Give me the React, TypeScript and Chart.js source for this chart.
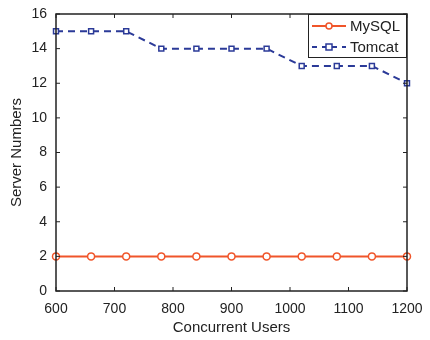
import React, { useEffect, useRef } from "react";
import { Chart, registerables } from "chart.js";

Chart.register(...registerables);

const users = [600, 660, 720, 780, 840, 900, 960, 1020, 1080, 1140, 1200];
const mysqlServers = [2, 2, 2, 2, 2, 2, 2, 2, 2, 2, 2];
const tomcatServers = [15, 15, 15, 14, 14, 14, 14, 13, 13, 13, 12];

const FONT = "'Liberation Sans', Arial, Helvetica, sans-serif";
const MYSQL_COLOR = "#F0552A";
const TOMCAT_COLOR = "#2B3A98";

// Boxed axes with inward tick marks on all four sides, plus an in-plot legend.
const framePlugin = {
  id: "frame",
  afterDatasetsDraw(chart: any) {
    const { ctx, chartArea } = chart;
    const { left, right, top, bottom } = chartArea;
    const xs = chart.scales.x;
    const ys = chart.scales.y;
    ctx.save();
    ctx.strokeStyle = "#222";
    ctx.lineWidth = 1.5;
    ctx.strokeRect(left, top, right - left, bottom - top);
    ctx.lineWidth = 1;
    const tl = 4;
    xs.ticks.forEach((t: any) => {
      const px = xs.getPixelForValue(t.value);
      ctx.beginPath();
      ctx.moveTo(px, bottom);
      ctx.lineTo(px, bottom - tl);
      ctx.moveTo(px, top);
      ctx.lineTo(px, top + tl);
      ctx.stroke();
    });
    ys.ticks.forEach((t: any) => {
      const py = ys.getPixelForValue(t.value);
      ctx.beginPath();
      ctx.moveTo(left, py);
      ctx.lineTo(left + tl, py);
      ctx.moveTo(right, py);
      ctx.lineTo(right - tl, py);
      ctx.stroke();
    });

    // legend
    const bx = 308;
    const by = top;
    const bw = right - bx;
    const bh = 44;
    ctx.fillStyle = "#fff";
    ctx.fillRect(bx, by, bw, bh);
    ctx.strokeStyle = "#222";
    ctx.lineWidth = 1;
    ctx.strokeRect(bx + 0.5, by + 0.5, bw - 1, bh - 1);
    const rows = chart.data.datasets.map((ds: any, i: number) => ({ ds, y: by + 12 + i * 21 }));
    rows.forEach(({ ds, y }: any) => {
      ctx.strokeStyle = ds.borderColor;
      ctx.lineWidth = ds.borderWidth;
      ctx.setLineDash(ds.borderDash ? [5, 5] : []);
      ctx.beginPath();
      ctx.moveTo(312, y);
      ctx.lineTo(346, y);
      ctx.stroke();
      ctx.setLineDash([]);
      ctx.lineWidth = 1.5;
      ctx.fillStyle = "#fff";
      if (ds.pointStyle === "rect") {
        ctx.fillRect(326, y - 3, 6, 6);
        ctx.strokeRect(326, y - 3, 6, 6);
      } else {
        ctx.beginPath();
        ctx.arc(329, y, 3, 0, Math.PI * 2);
        ctx.fill();
        ctx.stroke();
      }
      ctx.fillStyle = "#222";
      ctx.font = `15px ${FONT}`;
      ctx.textBaseline = "middle";
      ctx.textAlign = "left";
      ctx.fillText(ds.label, 350, y + 1);
    });
    ctx.restore();
  },
};

export default function App() {
  const ref = useRef<HTMLCanvasElement | null>(null);

  useEffect(() => {
    document.body.style.margin = "0";
    const canvas = ref.current;
    if (!canvas) return;
    const chart = new Chart(canvas, {
      type: "line",
      data: {
        datasets: [
          {
            label: "MySQL",
            data: users.map((u, i) => ({ x: u, y: mysqlServers[i] })),
            borderColor: MYSQL_COLOR,
            backgroundColor: "#fff",
            borderWidth: 2,
            pointStyle: "circle",
            pointRadius: 3.5,
            pointBorderWidth: 1.5,
            pointBorderColor: MYSQL_COLOR,
            pointBackgroundColor: "#fff",
            clip: false as any,
          },
          {
            label: "Tomcat",
            data: users.map((u, i) => ({ x: u, y: tomcatServers[i] })),
            borderColor: TOMCAT_COLOR,
            backgroundColor: "#fff",
            borderWidth: 2,
            borderDash: [7, 5],
            pointStyle: "rect",
            pointRadius: 3.5,
            pointBorderWidth: 1.5,
            pointBorderColor: TOMCAT_COLOR,
            pointBackgroundColor: "#fff",
            clip: false as any,
          },
        ],
      },
      options: {
        animation: false,
        responsive: false,
        devicePixelRatio: 1,
        layout: { padding: { top: 14, right: 23, left: 0, bottom: 0 } },
        plugins: {
          legend: { display: false },
          tooltip: { enabled: false },
        },
        scales: {
          x: {
            type: "linear",
            min: 600,
            max: 1200,
            ticks: {
              stepSize: 100,
              color: "#222",
              font: { family: FONT, size: 14 },
              padding: 10,
              maxRotation: 0,
              callback: (v: any) => String(v),
            },
            grid: { display: false, drawTicks: false },
            border: { display: false },
            title: {
              display: true,
              text: "Concurrent Users",
              color: "#222",
              font: { family: FONT, size: 15 },
              padding: { top: 0, bottom: 3 },
            },
            afterFit: (s: any) => {
              s.height = 49;
              s.paddingLeft = 0;
              s.paddingRight = 0;
            },
          },
          y: {
            type: "linear",
            min: 0,
            max: 16,
            ticks: {
              stepSize: 2,
              color: "#222",
              font: { family: FONT, size: 14 },
              padding: 9,
            },
            grid: { display: false, drawTicks: false },
            border: { display: false },
            title: {
              display: true,
              text: "Server Numbers",
              color: "#222",
              font: { family: FONT, size: 15 },
              padding: { top: 8, bottom: 0 },
            },
            afterFit: (s: any) => {
              s.width = 56;
              s.paddingTop = 0;
              s.paddingBottom = 0;
            },
          },
        },
      },
      plugins: [framePlugin],
    });
    return () => chart.destroy();
  }, []);

  return (
    <div style={{ position: "fixed", left: 0, top: 0, width: 430, height: 340, background: "#fff" }}>
      <canvas ref={ref} width={430} height={340} style={{ display: "block", width: 430, height: 340 }} />
    </div>
  );
}
